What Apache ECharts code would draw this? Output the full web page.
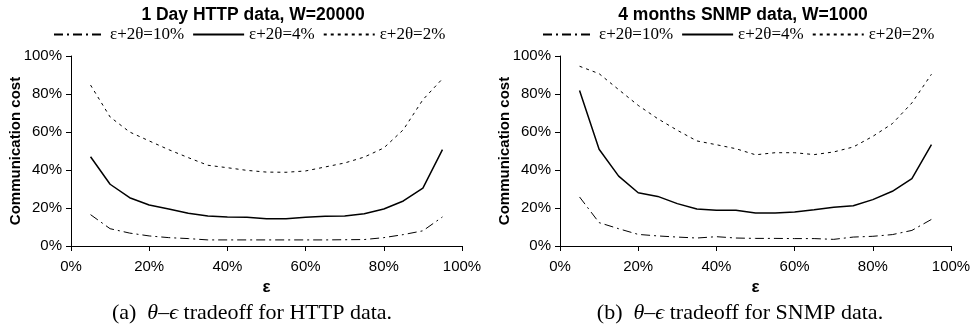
<!DOCTYPE html>
<html>
<head>
<meta charset="utf-8">
<script src="https://cdn.jsdelivr.net/npm/echarts@6/dist/echarts.min.js"></script>
<style>html,body{margin:0;padding:0;background:#fff}#c{width:974px;height:331px}</style>
</head>
<body>
<div id="c"></div>
<script>
var eps = [5,10,15,20,25,30,35,40,45,50,55,60,65,70,75,80,85,90,95];
var seriesNames = ['ε+2θ=10%', 'ε+2θ=4%', 'ε+2θ=2%'];
var xTicks = [0,20,40,60,80,100];
var yTicks = [0,20,40,60,80,100];

var http10 = [16.5,9.1,6.8,5.3,4.4,3.9,3.2,3.2,3.2,3.2,3.2,3.2,3.2,3.3,3.4,4.4,6.0,8.0,15.3];
var http4  = [47,32.5,25.4,21.6,19.5,17.2,15.8,15.3,15.1,14.4,14.4,15.1,15.6,15.8,17,19.5,23.7,30.5,50.7];
var http2  = [84.7,67.9,60,55.3,50.7,46.5,42.5,41.2,39.8,38.9,38.8,39.5,41.6,43.7,46.8,51.6,61.2,77,88];

var snmp10 = [25.8,12.3,9.1,6.1,5.3,4.7,4.2,4.9,4.2,4.0,4.0,3.9,3.9,3.5,4.7,5.1,6.0,8.2,14];
var snmp4  = [81.9,50.9,36.8,28,26.1,22.3,19.5,18.8,18.8,17.4,17.4,17.9,19.1,20.4,21.2,24.4,28.8,35.4,53.3];
var snmp2  = [94.6,90.7,82.3,74,67,60.9,55.3,53.3,51.2,48,49.1,49.1,48.1,49.5,52.1,57.7,64.4,75.3,90.4];

var titles = ['1 Day HTTP data, W=20000', '4 months SNMP data, W=1000'];
var captions = ['(a)  {i|θ}–{i|ϵ} tradeoff for HTTP data.', '(b)  {i|θ}–{i|ϵ} tradeoff for SNMP data.'];

function pairs(arr){ return eps.map(function(e,i){ return [e, arr[i]]; }); }

var sans = 'Liberation Sans, Arial, sans-serif';
var serif = 'Liberation Serif, Times New Roman, serif';
var styles = [
  {type:[9,4,2,4], width:1},
  {type:'solid', width:1.5},
  {type:[3,4], width:1}
];

function xAxis(idx){
  return {
    type:'value', gridIndex:idx, min:0, max:100, interval:20,
    name:'ε', nameLocation:'middle', nameGap:32,
    nameTextStyle:{fontFamily:sans, fontWeight:'bold', fontSize:17, color:'#000'},
    axisLine:{show:true, lineStyle:{color:'#000', width:1}},
    axisTick:{show:true, length:5, lineStyle:{color:'#000'}},
    axisLabel:{formatter:'{value}%', fontFamily:sans, fontSize:15, color:'#000', margin:13},
    splitLine:{show:false}
  };
}
function yAxis(idx){
  return {
    type:'value', gridIndex:idx, min:0, max:100, interval:20,
    name:'Communication cost', nameLocation:'middle', nameGap:48, nameMoveOverlap:false,
    nameTextStyle:{fontFamily:sans, fontWeight:'bold', fontSize:15, color:'#000'},
    axisLine:{show:true, lineStyle:{color:'#000', width:1}},
    axisTick:{show:true, length:5, lineStyle:{color:'#000'}},
    axisLabel:{formatter:'{value}%', fontFamily:sans, fontSize:15, color:'#000', margin:9},
    splitLine:{show:false}
  };
}
function mkSeries(idx, arrs){
  return arrs.map(function(a,k){
    return {
      type:'line', name:seriesNames[k], xAxisIndex:idx, yAxisIndex:idx,
      data:pairs(a), symbol:'none', smooth:false,
      lineStyle:{color:'#000', width:styles[k].width, type:styles[k].type},
      itemStyle:{color:'#000'}
    };
  });
}
function legend(left){
  return {
    left:left, top:26, orient:'horizontal', padding:0,
    data:seriesNames, itemWidth:51, itemHeight:14, itemGap:8,
    itemStyle:{opacity:0},
    textStyle:{fontFamily:serif, fontSize:17, color:'#000'},
    selectedMode:false
  };
}

var chart = echarts.init(document.getElementById('c'), null, {renderer:'canvas'});
var capStyle = {fontFamily:serif, fontWeight:'normal', fontSize:22, color:'#000', rich:{i:{fontFamily:serif, fontStyle:'italic', fontSize:22, color:'#000'}}};
var titleStyle = {fontFamily:sans, fontWeight:'bold', fontSize:17.5, color:'#000'};
var option = {
  animation:false,
  backgroundColor:'#fff',
  title:[
    {text:titles[0], left:248, top:1, textAlign:'center', textStyle:titleStyle},
    {text:titles[1], left:738, top:1, textAlign:'center', textStyle:titleStyle},
    {text:captions[0], left:247, top:297, textAlign:'center', textStyle:capStyle},
    {text:captions[1], left:735, top:297, textAlign:'center', textStyle:capStyle}
  ],
  legend:[legend(53), legend(542)],
  grid:[
    {left:71, right:512, top:56, bottom:85, containLabel:false},
    {left:560, right:23, top:56, bottom:85, containLabel:false}
  ],
  xAxis:[xAxis(0), xAxis(1)],
  yAxis:[yAxis(0), yAxis(1)],
  series: mkSeries(0,[http10,http4,http2]).concat(mkSeries(1,[snmp10,snmp4,snmp2]))
};
chart.setOption(option);
</script>
</body>
</html>
